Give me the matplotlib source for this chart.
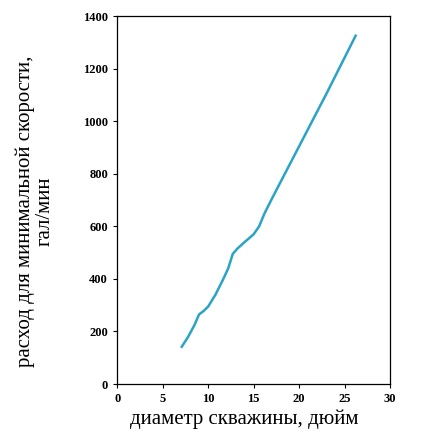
import matplotlib.pyplot as plt

# curve
diameter = [7.1, 7.8, 8.5, 9.0, 9.5, 10.0, 10.8, 11.6, 12.2, 12.7, 13.2, 14.0, 15.0, 15.6, 16.2, 17.0, 20.0, 23.0, 26.2]
flow_rate = [142, 180, 225, 265, 278, 295, 340, 395, 440, 495, 515, 540, 570, 600, 650, 705, 905, 1105, 1325]

x_ticks = [0, 5, 10, 15, 20, 25, 30]
y_ticks = [0, 200, 400, 600, 800, 1000, 1200, 1400]

plt.rcParams['font.family'] = ['Liberation Serif', 'DejaVu Serif']

fig = plt.figure(figsize=(4.26, 4.33), dpi=100)
ax = fig.add_axes([0.275, 0.113, 0.641, 0.85])

ax.plot(diameter, flow_rate, color="#2ba3c6", linewidth=1.8)

ax.set_xlim(0, 30)
ax.set_ylim(0, 1400)
ax.set_xticks(x_ticks)
ax.set_yticks(y_ticks)
ax.tick_params(direction="out", length=3, width=0.8, labelsize=9)
for lbl in ax.get_xticklabels() + ax.get_yticklabels():
    lbl.set_fontweight("bold")
for s in ax.spines.values():
    s.set_linewidth(0.9)

ax.set_xlabel("диаметр скважины, дюйм", fontsize=15)
ax.xaxis.set_label_coords(0.465, -0.068)
ax.set_ylabel("расход для минимальной скорости,\nгал/мин", fontsize=15,
              linespacing=1.05)
ax.yaxis.set_label_coords(-0.23, 0.47)

fig.savefig("out.png", dpi=100)
